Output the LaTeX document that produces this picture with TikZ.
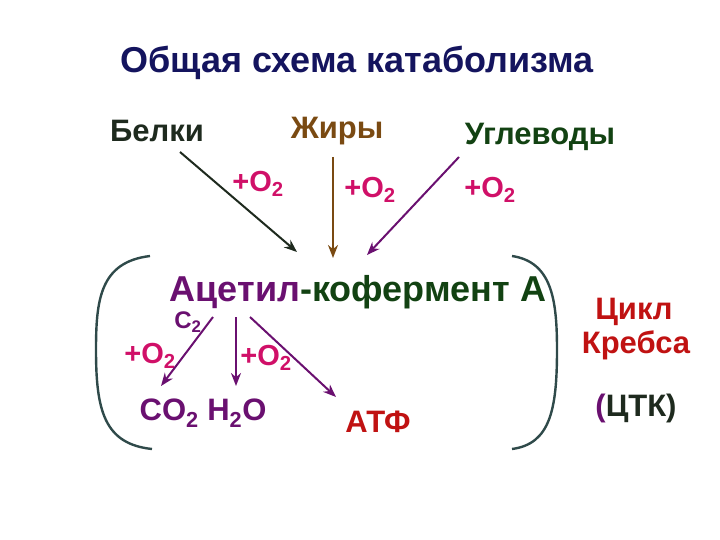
\documentclass[tikz,border=0pt]{standalone}
\usepackage{fontspec}
\setmainfont{Liberation Sans}
\usetikzlibrary{arrows.meta}
\definecolor{navy}{HTML}{14145E}
\definecolor{dk}{HTML}{1E2A1E}
\definecolor{brn}{HTML}{7A4A12}
\definecolor{dgr}{HTML}{124212}
\definecolor{mag}{HTML}{D01068}
\definecolor{pur}{HTML}{6A1070}
\definecolor{rd}{HTML}{C01212}
\definecolor{brk}{HTML}{2F4A4A}
\tikzset{lbl/.style={font=\bfseries\fontsize{31}{33}\selectfont,inner sep=0pt},
ox/.style={font=\bfseries\fontsize{29}{31}\selectfont,text=mag,inner sep=0pt},
arr/.style={-{Stealth[length=13pt,width=10pt]},line width=2pt}}
\newcommand{\Ot}{+O\textsubscript{2}}
\begin{document}
\begin{tikzpicture}[x=1pt,y=-1pt]
\useasboundingbox (0,0) rectangle (720,540);
\node[lbl,text=navy,font=\bfseries\fontsize{36}{38}\selectfont] (t) at (357,63) {Общая схема катаболизма};
\node[lbl,text=dk] (b) at (157,131) {Белки};
\node[lbl,text=brn] (z) at (337,131) {Жиры};
\node[lbl,text=dgr] (u) at (540,137) {Углеводы};
\node[ox] (o1) at (258,184) {\Ot};
\node[ox] (o2) at (370,190) {\Ot};
\node[ox] (o3) at (490,190) {\Ot};
\node[lbl,font=\bfseries\fontsize{36}{38}\selectfont] (a) at (358,292) {\textcolor{pur}{Ацетил}\textcolor{dgr}{-кофермент А}};
\coordinate (a1) at (297,252); \coordinate (a2) at (333,258); \coordinate (a3) at (367,255);
\coordinate (b1) at (180,152); \coordinate (z1) at (333,157); \coordinate (u1) at (459,157);
\draw[arr,dk] (b1) -- (a1);
\draw[arr,brn] (z1) -- (a2);
\draw[arr,pur] (u1) -- (a3);
\node[lbl,text=pur,font=\bfseries\fontsize{24}{26}\selectfont] (c2) at (188,322) {C\textsubscript{2}};
\node[ox] (o4) at (150,356) {\Ot};
\node[ox] (o5) at (266,358) {\Ot};
\node[lbl,text=pur] (co) at (203,413) {CO\textsubscript{2} H\textsubscript{2}O};
\node[lbl,text=rd] (atf) at (378,422) {АТФ};
\coordinate (s1) at (213,317); \coordinate (s2) at (236,317); \coordinate (s3) at (250,317);
\coordinate (e1) at (161,386); \coordinate (e2) at (236,386); \coordinate (e3) at (336,397);
\draw[arr,pur] (s1) -- (e1);
\draw[arr,pur] (s2) -- (e2);
\draw[arr,pur] (s3) -- (e3);
\draw[brk,line width=2.4pt] (150,256) .. controls (100,262) and (96,300) .. (96,350) .. controls (96,410) and (104,444) .. (152,449);
\draw[brk,line width=2.4pt] (512,256) .. controls (552,262) and (557,300) .. (557,350) .. controls (557,410) and (550,444) .. (512,449);
\node[lbl,text=rd] (k1) at (634,312) {Цикл};
\node[lbl,text=rd] (k2) at (636,345) {Кребса};
\node[lbl,text=dk] (k3) at (636,408) {\textcolor{pur}{(}ЦТК)};
\end{tikzpicture}
\end{document}
